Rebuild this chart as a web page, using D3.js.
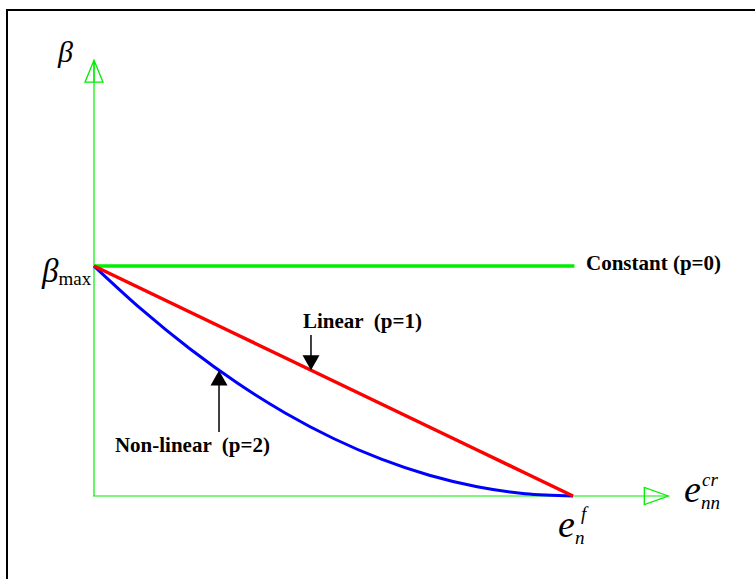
<!DOCTYPE html>
<html>
<head>
<meta charset="utf-8">
<script src="https://cdnjs.cloudflare.com/ajax/libs/d3/7.8.5/d3.min.js"></script>
<style>
  html, body { margin: 0; padding: 0; background: #fff; }
  svg { display: block; }
  text { font-family: "Liberation Serif", "Times New Roman", serif; }
</style>
</head>
<body>
<svg id="chart" width="755" height="579"></svg>
<script>
// Normalised crack strain e_nn^cr / e_n^f and retention factor beta / beta_max
const strain       = [0, 0.1, 0.2, 0.3, 0.4, 0.5, 0.6, 0.7, 0.8, 0.9, 1.0];
const constantP0   = [1, 1, 1, 1, 1, 1, 1, 1, 1, 1, 1];
const linearP1     = [1, 0.9, 0.8, 0.7, 0.6, 0.5, 0.4, 0.3, 0.2, 0.1, 0];
const nonLinearP2  = [1, 0.81, 0.64, 0.49, 0.36, 0.25, 0.16, 0.09, 0.04, 0.01, 0];
const seriesNames  = ["Constant (p=0)", "Linear  (p=1)", "Non-linear  (p=2)"];
// where the pointer arrows touch the curves
const linearPointer    = { x: 0.453, y: 0.547 };
const nonLinearPointer = { x: 0.261, y: 0.546 };
// reach of the axes beyond the last data point
const xAxisEnd = 1.199;
const yAxisEnd = 1.895;

const svg = d3.select("#chart");

const x = d3.scaleLinear().domain([0, 1]).range([94, 573]);
const y = d3.scaleLinear().domain([0, 1]).range([496, 266]);

// outer frame (only top/left edges fall inside the page)
svg.append("rect")
  .attr("x", 7).attr("y", 10)
  .attr("width", 800).attr("height", 620)
  .attr("fill", "none").attr("stroke", "#000").attr("stroke-width", 2);

const green = "#00ee00";

// axes
svg.append("line")
  .attr("x1", x(0)).attr("y1", y(0))
  .attr("x2", x(0)).attr("y2", y(yAxisEnd))
  .attr("stroke", green).attr("stroke-width", 1.2);
svg.append("line")
  .attr("x1", x(0) - 1).attr("y1", y(0))
  .attr("x2", x(xAxisEnd)).attr("y2", y(0))
  .attr("stroke", green).attr("stroke-width", 1.2);

// hollow arrowheads on the axes
const ytip = y(yAxisEnd), xtip = x(xAxisEnd);
svg.append("path")
  .attr("d", `M${x(0)},${ytip} L${x(0) - 9},${ytip + 22} L${x(0) + 9},${ytip + 22} Z M${x(0)},${ytip} L${x(0)},${ytip + 22}`)
  .attr("fill", "none").attr("stroke", green).attr("stroke-width", 1.3);
svg.append("path")
  .attr("d", `M${xtip},${y(0)} L${xtip - 24},${y(0) - 8.5} L${xtip - 24},${y(0) + 8.5} Z`)
  .attr("fill", "none").attr("stroke", green).attr("stroke-width", 1.3);

// curves
const pts = vals => strain.map((s, i) => [s, vals[i]]);
const straight = d3.line().x(d => x(d[0])).y(d => y(d[1]));
const smooth = d3.line().x(d => x(d[0])).y(d => y(d[1])).curve(d3.curveMonotoneX);

svg.append("path")
  .datum([[0, constantP0[0]], [1.003, constantP0[constantP0.length - 1]]])
  .attr("d", straight)
  .attr("fill", "none").attr("stroke", green).attr("stroke-width", 3.5);

svg.append("path")
  .datum(pts(nonLinearP2))
  .attr("d", smooth)
  .attr("fill", "none").attr("stroke", "#0000ff").attr("stroke-width", 3);

svg.append("path")
  .datum(pts(linearP1))
  .attr("d", straight)
  .attr("fill", "none").attr("stroke", "#ff0000").attr("stroke-width", 3.5);

// series labels
const boldLabel = (tx, ty, str, anchor) => svg.append("text")
  .attr("x", tx).attr("y", ty)
  .attr("font-size", 21).attr("font-weight", "bold")
  .attr("text-anchor", anchor || "start")
  .attr("fill", "#000").attr("xml:space", "preserve")
  .style("white-space", "pre")
  .text(str);

boldLabel(586, 270, seriesNames[0]);
boldLabel(303, 328, seriesNames[1]);
boldLabel(270, 452, seriesNames[2], "end");

// pointer arrows
function pointer(px, tipY, tailY) {
  const dir = tailY > tipY ? 1 : -1;
  svg.append("line")
    .attr("x1", px).attr("y1", tailY)
    .attr("x2", px).attr("y2", tipY + dir * 14)
    .attr("stroke", "#000").attr("stroke-width", 1.5);
  svg.append("path")
    .attr("d", `M${px},${tipY} L${px - 8.5},${tipY + dir * 15} L${px + 8.5},${tipY + dir * 15} Z`)
    .attr("fill", "#000");
}
pointer(x(linearPointer.x), y(linearPointer.y), 335);
pointer(x(nonLinearPointer.x), y(nonLinearPointer.y), 432);

// math labels
const mathText = (tx, ty, parts) => {
  const t = svg.append("text").attr("x", tx).attr("y", ty);
  parts.forEach(p => {
    const s = t.append("tspan").text(p.t)
      .attr("font-size", p.size)
      .attr("font-style", p.italic ? "italic" : "normal");
    if (p.dx !== undefined) s.attr("dx", p.dx);
    if (p.dy !== undefined) s.attr("dy", p.dy);
    if (p.x !== undefined) s.attr("x", p.x);
  });
  return t;
};

// beta (vertical axis title)
mathText(58, 62, [{ t: "β", size: 30, italic: true }]);
// beta_max
mathText(42, 282, [
  { t: "β", size: 33, italic: true },
  { t: "max", size: 19, dy: 3 }
]);
// e_n^f
mathText(558, 537, [
  { t: "e", size: 38, italic: true },
  { t: "f", size: 19, italic: true, x: 581, dy: -17 },
  { t: "n", size: 19, italic: true, x: 575, dy: 24 }
]);
// e_nn^cr
mathText(684, 502, [
  { t: "e", size: 38, italic: true },
  { t: "cr", size: 19, italic: true, x: 702, dy: -16 },
  { t: "nn", size: 19, italic: true, x: 701, dy: 23 }
]);
</script>
</body>
</html>
